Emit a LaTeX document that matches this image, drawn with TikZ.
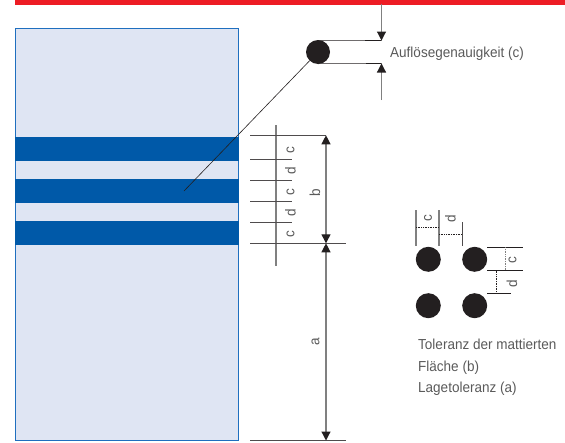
\documentclass[tikz,border=0pt]{standalone}
\usepackage{fontspec}
\setmainfont{Liberation Sans}
\newfontfamily\lightsans[FakeStretch=0.932]{Liberation Sans}
\usetikzlibrary{arrows.meta}
\definecolor{panel}{HTML}{DFE5F3}
\definecolor{panelline}{HTML}{1F6FBF}
\definecolor{bandblue}{HTML}{0059A8}
\definecolor{topred}{HTML}{ED1C24}
\definecolor{ink}{HTML}{231F20}
\definecolor{dimgray}{HTML}{808080}
\definecolor{txt}{HTML}{5A5A5A}
\tikzset{
  x=1pt,y=-1pt,
  band/.style={fill=bandblue,draw=none},
  blob/.style={circle,fill=ink,draw=none,inner sep=0pt,minimum size=25pt},
  dimline/.style={draw=dimgray,line width=1.2pt},
  tick/.style={draw=ink!80,line width=0.7pt},
  guide/.style={draw=ink,line width=0.6pt},
  dotline/.style={draw=ink,line width=0.7pt,densely dotted},
  arr/.style={-{Triangle[length=9pt,width=9pt,color=ink]}},
  arrboth/.style={{Triangle[length=9pt,width=9pt,color=ink]}-{Triangle[length=9pt,width=9pt,color=ink]}},
  lab/.style={text=txt,font=\lightsans\fontsize{14.5}{16}\selectfont,inner sep=0pt},
  rlab/.style={lab,rotate=90},
  note/.style={text=txt,font=\lightsans\fontsize{14.5}{21.5}\selectfont,inner sep=0pt,align=left,anchor=north west},
}
\begin{document}
\begin{tikzpicture}
\useasboundingbox (0,0) rectangle (565,442);
\fill[topred] (15,0) rectangle (565,4.5);
\draw[fill=panel,draw=panelline,line width=0.8pt] (15.5,28) rectangle (238.5,440.5);
\fill[band] (15.1,137) rectangle (238.5,161);
\fill[band] (15.1,179) rectangle (238.5,203);
\fill[band] (15.1,221) rectangle (238.5,245);
% resolution dot
\node[blob,minimum size=24pt] (dot) at (318,52) {};
\coordinate (lead) at (184,191);
\draw[guide] (lead) -- (dot);
\coordinate (tt) at (381.5,40.5);
\coordinate (tb) at (381.5,63.5);
\draw[guide] (dot.north) ++(0,0.5) -- (tt);
\draw[guide] (dot.south) ++(0,-0.5) -- (tb);
\coordinate (at) at (381.5,4);
\coordinate (ab) at (381.5,100);
\draw[dimline,arr] (at) -- (tt);
\draw[dimline,arr] (ab) -- (tb);
\node[lab,anchor=west] (res) at (390,54) {Auflösegenauigkeit (c)};
% ticks
\coordinate (v1) at (276,125);
\coordinate (v2) at (276,266);
\draw[dimline] (v1) -- (v2);
\coordinate (l1) at (250,135.3);\coordinate (r1) at (326,135.3);
\coordinate (l2) at (250,159.3);\coordinate (r2) at (292,159.3);
\coordinate (l3) at (250,180.3);\coordinate (r3) at (292,180.3);
\coordinate (l4) at (250,201.3);\coordinate (r4) at (292,201.3);
\coordinate (l5) at (250,222.3);\coordinate (r5) at (292,222.3);
\coordinate (l6) at (250,243.3);\coordinate (r6) at (346,243.3);
\coordinate (l7) at (250,440.5);\coordinate (r7) at (346,440.5);
\foreach \i in {1,...,7}{\draw[tick] (l\i) -- (r\i);}
\node[rlab] (c1) at (290.5,150) {c};
\node[rlab] (d1) at (290.5,171) {d};
\node[rlab] (c2) at (290.5,192) {c};
\node[rlab] (d2) at (290.5,213) {d};
\node[rlab] (c3) at (290.5,234) {c};
\coordinate (b1) at (326,135.3);
\coordinate (b2) at (326,243.3);
\coordinate (a2) at (326,440.5);
\draw[dimline,arrboth] (b1) -- (b2);
\draw[dimline,arrboth] (b2) -- (a2);
\node[rlab] (b) at (315,193) {b};
\node[rlab] (a) at (315.5,342) {a};
% four dots
\node[blob] (p1) at (428.3,259.3) {};
\node[blob] (p2) at (474.7,259.3) {};
\node[blob] (p3) at (428.3,305.7) {};
\node[blob] (p4) at (474.7,305.7) {};
\draw[dimline] (416,210) -- (416,245.7);
\draw[dimline] (439,210) -- (439,245.7);
\draw[tick] (462,222.3) -- (462,245.7);
\draw[dotline] (416,227.3) -- (439,227.3);
\draw[dotline] (439,234.3) -- (462,234.3);
\node[rlab] (lc) at (428,218.5) {c};
\node[rlab] (ld) at (450.5,218.5) {d};
\draw[guide] (487.3,247.3) -- (522.7,247.3);
\draw[guide] (487.3,270.7) -- (522.7,270.7);
\draw[guide] (487.3,293.7) -- (510.7,293.7);
\draw[dotline,draw=gray] (505,247.3) -- (505,270.7);
\draw[dotline] (496.7,270.7) -- (496.7,293.7);
\node[rlab] (rc) at (512.5,260.5) {c};
\node[rlab] (rd) at (512,284) {d};
\node[note] (n) at (418,339) {Toleranz der mattierten\\Fläche (b)\\Lagetoleranz (a)};
\end{tikzpicture}
\end{document}
